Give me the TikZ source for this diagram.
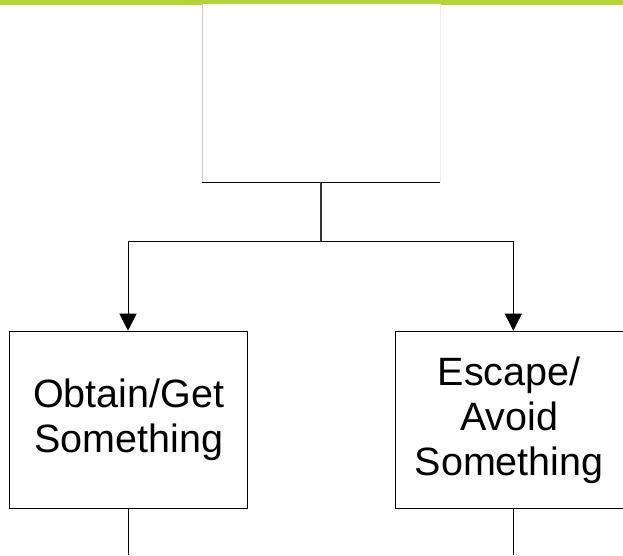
\documentclass[tikz,border=0pt]{standalone}
\usepackage{fontspec}
\setmainfont{Liberation Sans}
\usetikzlibrary{arrows.meta}
\definecolor{barGreen}{RGB}{181,211,52}
\definecolor{edgeGray}{RGB}{200,200,200}
\definecolor{edgeFaint}{RGB}{236,236,236}
\begin{document}
\begin{tikzpicture}[x=1pt,y=-1pt,
  box/.style={draw=black,line width=1pt,fill=white,align=center,inner sep=0pt,
              font=\fontsize{39.5}{45}\selectfont},
  link/.style={line width=1pt,draw=black},
  arrow/.style={link,-{Triangle[length=17pt,width=17pt]}}]
  \useasboundingbox (0,0) rectangle (623,555);
  % header band
  \fill[barGreen] (0,0) rectangle (623,4.5);
  % empty title box (open at the top)
  \node[fill=white,inner sep=0pt,minimum width=238pt,minimum height=178.3pt,anchor=north west]
    (top) at (202,3.7) {};
  \draw[edgeGray,line width=0.8pt] (top.north west) -- (top.south west);
  \draw[edgeFaint,line width=0.8pt] (top.north east) -- (top.south east);
  \draw[link] (top.south west) -- (top.south east);
  % the two outcome boxes
  \node[box,minimum width=237.7pt,minimum height=177.3pt,anchor=north west]
    (obtain) at (9.3,330.7) {Obtain/Get\\Something};
  \node[box,minimum width=228pt,minimum height=177.3pt,anchor=north west]
    (escape) at (394.7,330.7) {Escape/\\Avoid\\Something};
  % branching connector
  \coordinate (split) at (321,241);
  \coordinate (splitL) at (128,241);
  \coordinate (splitR) at (513.3,241);
  \draw[draw=black!80,line width=1.6pt] (top.south -| split) -- (split);
  \draw[link] (splitL) -- (splitR);
  \draw[arrow] (splitL) -- (splitL |- obtain.north);
  \draw[arrow] (splitR) -- (splitR |- escape.north);
  % continuing lines below
  \coordinate (downL) at (128,555);
  \coordinate (downR) at (513.3,555);
  \draw[link] (obtain.south -| downL) -- (downL);
  \draw[link] (escape.south -| downR) -- (downR);
\end{tikzpicture}
\end{document}
